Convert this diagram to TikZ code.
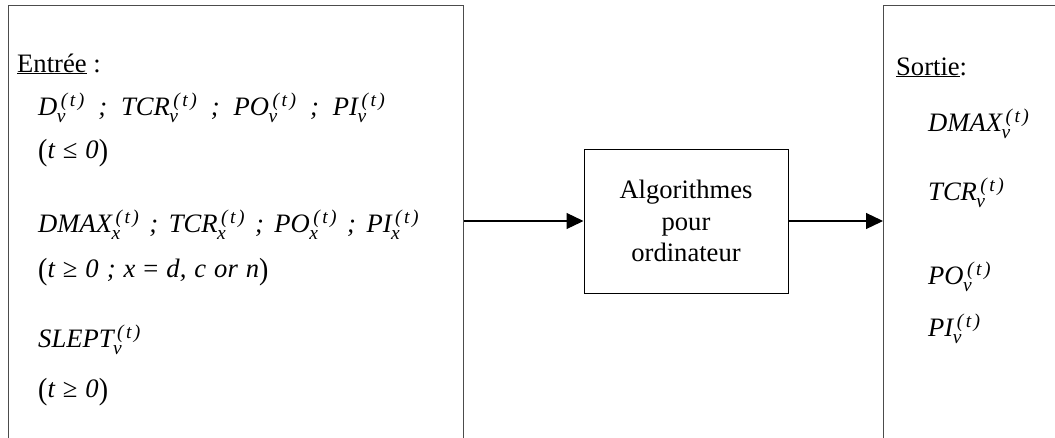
\documentclass[tikz,border=0pt]{standalone}
\usepackage{fontspec}
\setmainfont{Liberation Serif}
\usetikzlibrary{arrows.meta}
\newcommand\bigfs{\fontsize{26.6}{31.5}\selectfont}
\newcommand\smfs{\fontsize{19.5}{19.5}\selectfont}
\newcommand\subsup[1]{\kern3.5pt\rlap{\kern-4pt\raisebox{-7.5pt}{\smfs\itshape #1}}\raisebox{8.5pt}{\smfs\itshape (\kern2.5pt t\kern2.5pt)}}
\newcommand\sepa{\hspace{14pt};\hspace{14pt}}
\newcommand\sepb{\hspace{10.5pt};\hspace{10.5pt}}
\newcommand\gp{\hspace{8pt}}
\newcommand\bp[1]{\raisebox{-2.5pt}{\upshape\scalebox{1.05}[1.15]{#1}}}
\begin{document}
\begin{tikzpicture}[x=1pt,y=-1pt,
  txt/.style={anchor=base west, inner sep=0pt, font=\bigfs\itshape},
  frame/.style={draw=black!70, line width=1.2pt, anchor=north west, inner sep=0pt},
  algobox/.style={draw=black, line width=1pt, align=center, inner sep=0pt, font=\bigfs},
  arr/.style={draw=black, line width=1.2pt, -{Triangle[length=17pt,width=16pt]}}]
\useasboundingbox (0,0) rectangle (1055,437);
\clip (0,0) rectangle (1055,437);
% frames
\node[frame, minimum width=455pt, minimum height=480pt] (inbox) at (8,4.5) {};
\node[frame, minimum width=220pt, minimum height=480pt] (outbox) at (883,4.5) {};
\node[algobox, minimum width=204pt, minimum height=144pt] (algo) at (686,221) {Algorithmes\\pour\\ordinateur};
% arrows
\draw[arr] (algo.west -| inbox.east) -- (algo.west);
\draw[arr] (algo.east) -- (algo.east -| outbox.west);
% left texts
\node[txt, font=\bigfs] (entree) at (17,72) {\underline{Entrée} :};
\node[txt] (l1) at (38,115) {D\subsup{v}\sepa TCR\subsup{v}\sepa PO\subsup{v}\sepa PI\subsup{v}};
\node[txt] (l2) at (38,158) {\bp{(}t\gp\upshape≤\gp\itshape 0\bp{)}};
\node[txt] (l3) at (38,232) {DMAX\subsup{x}\sepb TCR\subsup{x}\sepb PO\subsup{x}\sepb PI\subsup{x}};
\node[txt] (l4) at (38,277) {\bp{(}t\gp\upshape≥\gp\itshape 0\gp;\gp x\gp\upshape=\gp\itshape d,\gp c\gp or\gp n\bp{)}};
\node[txt] (l5) at (38,347) {SLEPT\subsup{v}};
\node[txt] (l6) at (38,397) {\bp{(}t\gp\upshape≥\gp\itshape 0\bp{)}};
% right texts
\node[txt, font=\bigfs] (sortie) at (896,75) {\underline{Sortie}:};
\node[txt] (r1) at (928,131) {DMAX\subsup{v}};
\node[txt] (r2) at (928,200) {TCR\subsup{v}};
\node[txt] (r3) at (928,284) {PO\subsup{v}};
\node[txt] (r4) at (928,336) {PI\subsup{v}};
\end{tikzpicture}
\end{document}
